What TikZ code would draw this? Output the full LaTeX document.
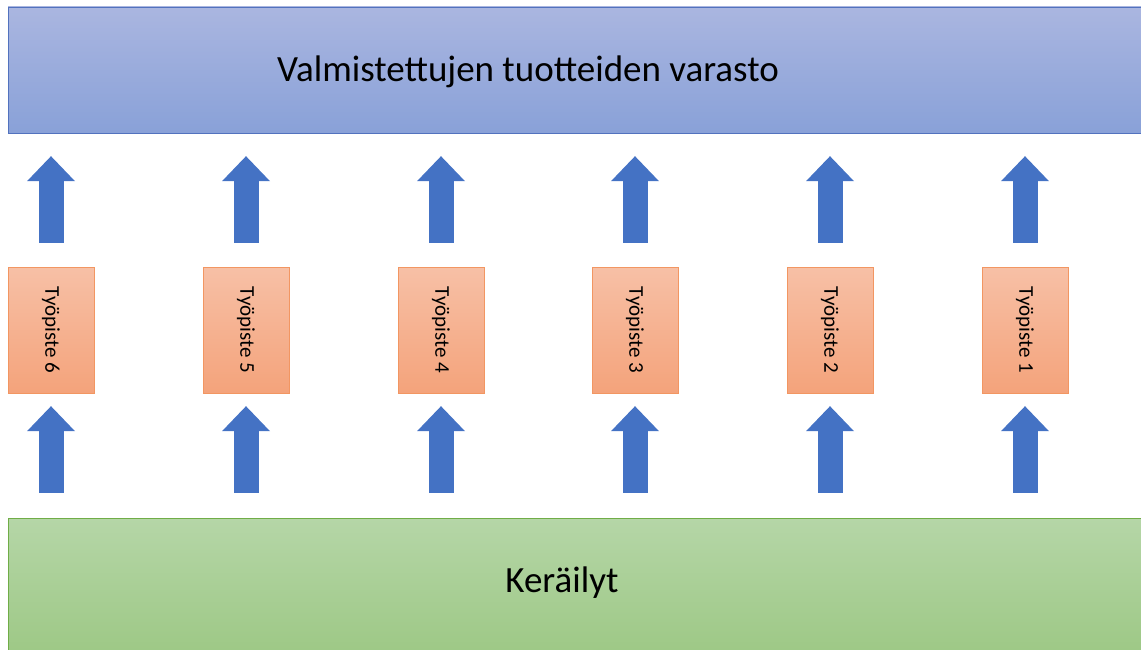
\documentclass[tikz,border=0pt]{standalone}
\usepackage{fontspec}
\setmainfont{Carlito}
\usepackage{xcolor}
\usetikzlibrary{arrows.meta, positioning}

\definecolor{storetop}{RGB}{170,182,224}
\definecolor{storebot}{RGB}{137,161,216}
\definecolor{storeedge}{RGB}{82,114,190}
\definecolor{worktop}{RGB}{247,192,166}
\definecolor{workbot}{RGB}{244,163,123}
\definecolor{workedge}{RGB}{242,150,98}
\definecolor{picktop}{RGB}{181,214,167}
\definecolor{pickbot}{RGB}{157,200,133}
\definecolor{pickedge}{RGB}{112,173,71}
\definecolor{arrowblue}{RGB}{68,114,196}

\begin{document}
\begin{tikzpicture}[x=1pt,y=-1pt]
        \useasboundingbox (0,0) rectangle (1141,650);
        % storage and picking areas
        \node[draw=storeedge,top color=storetop,bottom color=storebot,
              minimum width=1150pt,minimum height=126pt] (store) at (583,70) {};
        \node[draw=pickedge,top color=picktop,bottom color=pickbot,
              minimum width=1150pt,minimum height=138pt] (pick) at (583,587) {};
        \node[anchor=base,font=\fontsize{37}{42}\selectfont] (storetext) at (528,82)
              {Valmistettujen tuotteiden varasto};
        \node[anchor=base,font=\fontsize{37}{42}\selectfont] (picktext) at (562,592)
              {Keräilyt};
        \begin{scope}[every node/.style={draw=workedge,top color=worktop,bottom color=workbot,
                      minimum width=86pt,minimum height=126pt,
                      font=\fontsize{21}{25}\selectfont}]
          \node (w6) at (51,330) {\rotatebox{-90}{Työpiste 6}};
          \node (w5) at (246,330) {\rotatebox{-90}{Työpiste 5}};
          \node (w4) at (441,330) {\rotatebox{-90}{Työpiste 4}};
          \node (w3) at (635,330) {\rotatebox{-90}{Työpiste 3}};
          \node (w2) at (830,330) {\rotatebox{-90}{Työpiste 2}};
          \node (w1) at (1025,330) {\rotatebox{-90}{Työpiste 1}};
        \end{scope}
        % arrows from picking to work stations
        \begin{scope}[every edge/.style={draw=arrowblue,line width=25pt,
                      -{Triangle[width=48pt,length=25pt,line width=0pt]},
                      shorten <=25pt,shorten >=13pt}]
          \path (w6.south |- pick.north) edge (w6.south);
          \path (w5.south |- pick.north) edge (w5.south);
          \path (w4.south |- pick.north) edge (w4.south);
          \path (w3.south |- pick.north) edge (w3.south);
          \path (w2.south |- pick.north) edge (w2.south);
          \path (w1.south |- pick.north) edge (w1.south);
        \end{scope}
        % arrows from work stations to storage
        \begin{scope}[every edge/.style={draw=arrowblue,line width=25pt,
                      -{Triangle[width=48pt,length=25pt,line width=0pt]},
                      shorten <=24pt,shorten >=23pt}]
          \path (w6.north) edge (w6.north |- store.south);
          \path (w5.north) edge (w5.north |- store.south);
          \path (w4.north) edge (w4.north |- store.south);
          \path (w3.north) edge (w3.north |- store.south);
          \path (w2.north) edge (w2.north |- store.south);
          \path (w1.north) edge (w1.north |- store.south);
        \end{scope}
      \end{tikzpicture}
\end{document}
